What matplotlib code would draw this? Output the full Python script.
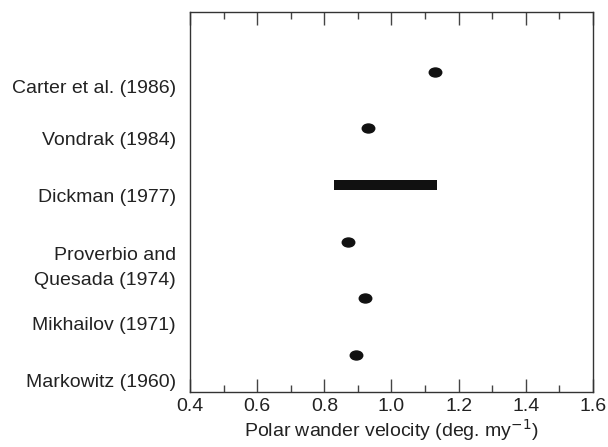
import matplotlib

matplotlib.use("Agg")

import matplotlib.pyplot as plt
from matplotlib.path import Path
from matplotlib.transforms import Affine2D

plt.rcParams["font.family"] = ["Liberation Sans", "DejaVu Sans"]

# studies from top to bottom
studies = ["Carter et al. (1986)", "Vondrak (1984)", "Dickman (1977)",
           "Proverbio and\nQuesada (1974)", "Mikhailov (1971)", "Markowitz (1960)"]
row_pos = [6, 5, 4, 3, 2, 1]
label_pos = [5.74, 4.82, 3.81, 2.64, 1.56, 0.56]

# point estimates (deg. per my); None where a range is given
point_velocity = [1.13, 0.93, None, 0.87, 0.92, 0.893]
# Dickman (1977) gives a range
range_start = [0.83]
range_end = [1.135]
range_row = [4]

FONT = 14

fig = plt.figure(figsize=(6.08, 4.47), dpi=100)
ax = fig.add_axes([0.3125, 0.123, 0.6628, 0.850])

ellipse = Path.unit_circle().transformed(Affine2D().scale(1.0, 0.72))
xs = [v for v in point_velocity if v is not None]
ys = [r for v, r in zip(point_velocity, row_pos) if v is not None]
ax.plot(xs, ys, linestyle="none", marker=ellipse, markersize=9,
        color="#111111")

ax.barh(range_row, [e - s for s, e in zip(range_start, range_end)],
        left=range_start, height=0.16, color="#111111")

ax.set_xlim(0.4, 1.6)
ax.set_ylim(0.35, 7.05)
ax.set_xticks([0.4, 0.6, 0.8, 1.0, 1.2, 1.4, 1.6])
ax.set_xticks([0.5, 0.7, 0.9, 1.1, 1.3, 1.5], minor=True)
ax.tick_params(axis="x", which="both", direction="in", top=True,
               color="#444444", labelsize=FONT, labelcolor="#222222", pad=4)
ax.tick_params(axis="x", which="major", length=9.5, width=1)
ax.tick_params(axis="x", which="minor", length=5, width=1)

ax.set_yticks(label_pos)
ax.set_yticklabels(studies, fontsize=FONT, ha="right", color="#222222",
                   multialignment="right", linespacing=1.6)
ax.tick_params(axis="y", length=0, pad=10)

for spine in ax.spines.values():
    spine.set_color("#333333")
    spine.set_linewidth(1)

ax.set_xlabel("Polar wander velocity (deg. my$^{-1}$)", fontsize=FONT,
              color="#222222", labelpad=2)

fig.savefig("out.png", dpi=100)
